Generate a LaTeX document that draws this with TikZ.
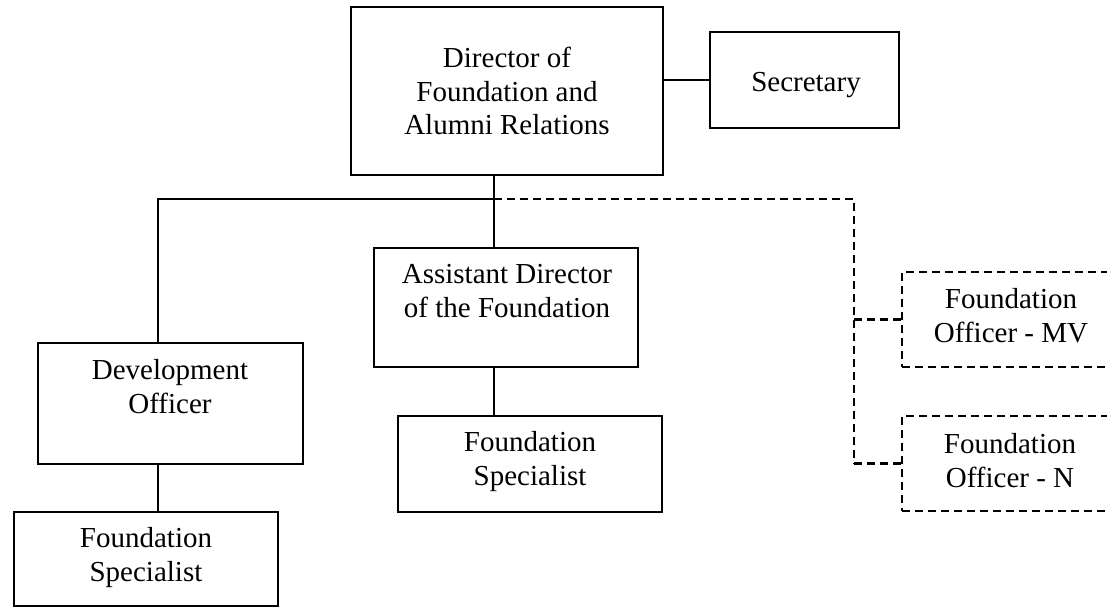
\documentclass[tikz,border=0pt]{standalone}
\usepackage{fontspec}
\setmainfont{Liberation Serif}
\begin{document}
\begin{tikzpicture}[x=1pt,y=-1pt,
  line width=2.1pt,
  box/.style={draw, rectangle, inner sep=0pt},
  dbox/.style={box, dash pattern=on 8pt off 5pt},
  lbl/.style={inner sep=0pt, align=center, anchor=base,
    font=\fontsize{29}{33.5}\selectfont},
  dline/.style={dash pattern=on 8pt off 5pt}]
\useasboundingbox (0,0) rectangle (1107,607);

% boxes
\node[box, minimum width=312pt, minimum height=168pt] (dir)   at (507,91)    {};
\node[box, minimum width=189pt, minimum height=96pt]  (sec)   at (804.5,80)  {};
\node[box, minimum width=264pt, minimum height=119pt] (asst)  at (506,307.5) {};
\node[box, minimum width=264pt, minimum height=96pt]  (mspec) at (530,464)   {};
\node[box, minimum width=265pt, minimum height=121pt] (dev)   at (170.5,403.5) {};
\node[box, minimum width=264pt, minimum height=94pt]  (lspec) at (146,559)   {};
\node[dbox, minimum width=264pt, minimum height=95pt] (mv)    at (1034,319.5) {};
\node[dbox, minimum width=264pt, minimum height=95pt] (nb)    at (1034,463.5) {};

% labels (anchored at the baseline of their last line)
\node[lbl] (dirT)   at (507,135) {Director of\\Foundation and\\Alumni Relations};
\node[lbl] (secT)   at (806,92)  {Secretary};
\node[lbl] (asstT)  at (507,317) {Assistant Director\\of the Foundation};
\node[lbl] (mspecT) at (530,485) {Foundation\\Specialist};
\node[lbl] (devT)   at (170,413) {Development\\Officer};
\node[lbl] (lspecT) at (146,581) {Foundation\\Specialist};
\node[lbl] (mvT)    at (1011,342) {Foundation\\Officer - MV};
\node[lbl] (nT)     at (1010,487) {Foundation\\Officer - N};

% junctions
\coordinate (j) at (494,199);
\coordinate (l) at (158,199);
\coordinate (r) at (854,199);

% solid connectors
\draw (dir.east |- sec.west) -- (sec.west);
\draw (j |- dir.south) -- (j |- asst.north);
\draw (j) -- (l) -- (l |- dev.north);
\draw (l |- dev.south) -- (l |- lspec.north);
\draw (j |- asst.south) -- (j |- mspec.north);

% dashed connectors
\draw[dline] (j) -- (r) -- (r |- nb.west);
\draw[dline] (r |- mv.west) -- (mv.west);
\draw[dline] (r |- nb.west) -- (nb.west);
\end{tikzpicture}
\end{document}
